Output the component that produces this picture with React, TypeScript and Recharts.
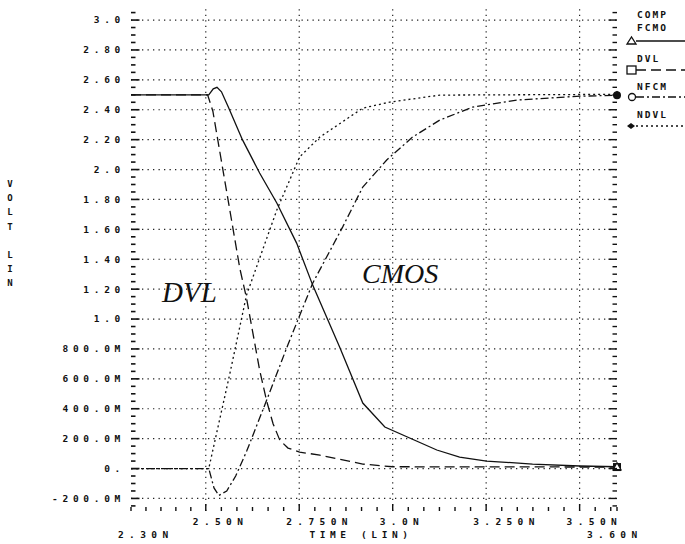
import React from 'react';
import { LineChart, Line, XAxis, YAxis, ReferenceLine } from 'recharts';

// transient response, time in ns, volts
const compT = [2.3, 2.508, 2.52, 2.53, 2.542, 2.56, 2.598, 2.644, 2.69, 2.743, 2.786, 2.858, 2.92, 2.979, 3.118, 3.179, 3.251, 3.374, 3.5, 3.6];
const compV = [2.5, 2.5, 2.54, 2.55, 2.52, 2.42, 2.2, 1.977, 1.776, 1.508, 1.227, 0.813, 0.438, 0.278, 0.124, 0.077, 0.05, 0.03, 0.017, 0.012];

const dvlT = [2.3, 2.505, 2.519, 2.556, 2.591, 2.609, 2.644, 2.663, 2.68, 2.698, 2.72, 2.751, 2.805, 2.92, 3.0, 3.6];
const dvlV = [2.5, 2.5, 2.39, 1.85, 1.34, 1.14, 0.66, 0.45, 0.3, 0.19, 0.137, 0.11, 0.09, 0.03, 0.012, 0.01];

const nfcmT = [2.3, 2.508, 2.522, 2.535, 2.556, 2.58, 2.61, 2.663, 2.72, 2.786, 2.866, 2.92, 2.984, 3.053, 3.126, 3.214, 3.332, 3.492, 3.6];
const nfcmV = [0, 0, -0.13, -0.18, -0.15, -0.05, 0.12, 0.458, 0.83, 1.24, 1.615, 1.883, 2.064, 2.217, 2.331, 2.418, 2.465, 2.49, 2.497];

const ndvlT = [2.3, 2.508, 2.564, 2.609, 2.69, 2.751, 2.805, 2.92, 2.992, 3.126, 3.6];
const ndvlV = [0, 0, 0.63, 1.16, 1.729, 2.084, 2.217, 2.411, 2.451, 2.498, 2.503];

const yMajor = [-0.2, 0, 0.2, 0.4, 0.6, 0.8, 1.0, 1.2, 1.4, 1.6, 1.8, 2.0, 2.2, 2.4, 2.6, 2.8, 3.0];
const yLabels = ['-200.0M', '0.', '200.0M', '400.0M', '600.0M', '800.0M', '1.0', '1.20', '1.40', '1.60', '1.80', '2.0', '2.20', '2.40', '2.60', '2.80', '3.0'];
const xMajor = [2.5, 2.75, 3.0, 3.25, 3.5];
const xLabels = ['2.50N', '2.750N', '3.0N', '3.250N', '3.50N'];
const xEnds = [2.3, 3.6];
const xEndLabels = ['2.30N', '3.60N'];

const zip = (t: number[], v: number[]) => t.map((x, i) => ({ t: x, v: v[i] }));
const compData = zip(compT, compV);
const dvlData = zip(dvlT, dvlV);
const nfcmData = zip(nfcmT, nfcmV);
const ndvlData = zip(ndvlT, ndvlV);

const yTicks: number[] = [];
for (let i = -5; i <= 61; i++) yTicks.push(Math.round(i * 5) / 100);

const xTicks: number[] = [2.3, 2.34, 2.38, 2.42, 2.46];
for (let j = 0; 2.5 + j * 0.25 / 6 < 3.6; j++) xTicks.push(Math.round((2.5 + j * 0.25 / 6) * 10000) / 10000);
xTicks.push(3.6);

const FONT = '"DejaVu Sans Mono", monospace';
const WEIGHT = 600;
const INK = '#111';
const near = (a: number, b: number) => Math.abs(a - b) < 1e-6;

const LeftTick = (props: any) => {
  const { x, y, payload } = props;
  const idx = yMajor.findIndex(m => near(m, payload.value));
  return (
    <g>
      <line x1={x} x2={x + (idx >= 0 ? 8.5 : 4.5)} y1={y} y2={y} stroke={INK} strokeWidth={1.6} />
      {idx >= 0 && (
        <text x={x - 6} y={y} dy="0.36em" textAnchor="end" fontFamily={FONT} fontWeight={WEIGHT} fontSize={9.5} letterSpacing={4.7} fill={INK}>
          {yLabels[idx]}
        </text>
      )}
    </g>
  );
};

const RightTick = (props: any) => {
  const { x, y, payload } = props;
  const major = yMajor.some(m => near(m, payload.value));
  return <line x1={x - (major ? 8.5 : 4.5)} x2={x} y1={y} y2={y} stroke={INK} strokeWidth={1.4} />;
};

const BottomTick = (props: any) => {
  const { x, y, payload } = props;
  const idx = xMajor.findIndex(m => near(m, payload.value));
  const end = xEnds.findIndex(m => near(m, payload.value));
  return (
    <g>
      <line x1={x} x2={x} y1={y} y2={y - (idx >= 0 ? 7 : 4)} stroke={INK} strokeWidth={1.4} />
      {idx >= 0 && (
        <text x={x - 13} y={y + 11} dy="0.36em" fontFamily={FONT} fontWeight={WEIGHT} fontSize={9.5} letterSpacing={5.4} fill={INK}>
          {xLabels[idx]}
        </text>
      )}
      {end >= 0 && (
        <text x={end === 0 ? x - 13 : x - 30} y={y + 24} dy="0.36em" fontFamily={FONT} fontWeight={WEIGHT} fontSize={9.5} letterSpacing={5.4} fill={INK}>
          {xEndLabels[end]}
        </text>
      )}
    </g>
  );
};

const endDot = (len: number, kind: string) => (p: any) => {
  if (p.index !== len - 1) return <g key={p.index} />;
  const { cx, cy } = p;
  if (kind === 'tri')
    return <path key="e" d={`M${cx - 4},${cy + 3} L${cx},${cy - 4} L${cx + 4},${cy + 3} Z`} fill="#fff" stroke={INK} strokeWidth={1.3} />;
  if (kind === 'sq') return <rect key="e" x={cx - 4} y={cy - 4} width={8} height={8} fill={INK} />;
  if (kind === 'circ') return <circle key="e" cx={cx} cy={cy} r={4} fill={INK} />;
  return <path key="e" d={`M${cx - 3.5},${cy} L${cx},${cy - 3.5} L${cx + 3.5},${cy} L${cx},${cy + 3.5} Z`} fill={INK} />;
};

const grid = { stroke: '#222', strokeWidth: 1.2, strokeDasharray: '1.3 4.2' };

const legendItems = [
  { names: ['COMP', 'FCMO'], ty: [18, 31], ly: 41, dash: undefined as string | undefined, mark: 'tri' },
  { names: ['DVL'], ty: [62], ly: 70, dash: '10 5', mark: 'sq' },
  { names: ['NFCM'], ty: [90], ly: 97, dash: '8 3 2 3', mark: 'circ' },
  { names: ['NDVL'], ty: [118], ly: 126, dash: '2 3', mark: 'dia' },
];

const axisLetters = ['V', 'O', 'L', 'T', '', 'L', 'I', 'N'];

export default function App() {
  return (
    <div style={{ position: 'absolute', left: 0, top: 0, width: 685, height: 544, background: '#fff' }}>
      <LineChart width={685} height={544} margin={{ top: 6, right: 0, bottom: 0, left: 0 }}>
        <XAxis
          type="number"
          dataKey="t"
          domain={[2.3, 3.6]}
          ticks={xTicks}
          interval={0}
          height={33}
          axisLine={false}
          tickLine={false}
          tickSize={0}
          tickMargin={0}
          tick={<BottomTick />}
        />
        <YAxis
          type="number"
          domain={[-0.284, 3.094]}
          ticks={yTicks}
          interval={0}
          width={131}
          axisLine={false}
          tickLine={false}
          tickSize={0}
          tickMargin={0}
          tick={<LeftTick />}
        />
        <YAxis
          yAxisId="r"
          orientation="right"
          type="number"
          domain={[-0.284, 3.094]}
          allowDataOverflow
          ticks={yTicks}
          interval={0}
          width={68}
          axisLine={false}
          tickLine={false}
          tickSize={0}
          tickMargin={0}
          tick={<RightTick />}
        />
        {yMajor.map(v => <ReferenceLine key={'h' + v} y={v} {...grid} />)}
        {xMajor.map(v => <ReferenceLine key={'v' + v} x={v} {...grid} />)}
        <Line data={ndvlData} dataKey="v" type="linear" stroke={INK} strokeWidth={1.3} strokeDasharray="2 3" dot={endDot(ndvlData.length, 'dia')} isAnimationActive={false} />
        <Line data={nfcmData} dataKey="v" type="linear" stroke={INK} strokeWidth={1.3} strokeDasharray="8 3 2 3" dot={endDot(nfcmData.length, 'circ')} isAnimationActive={false} />
        <Line data={dvlData} dataKey="v" type="linear" stroke={INK} strokeWidth={1.3} strokeDasharray="10 5" dot={endDot(dvlData.length, 'sq')} isAnimationActive={false} />
        <Line data={compData} dataKey="v" type="linear" stroke={INK} strokeWidth={1.3} dot={endDot(compData.length, 'tri')} isAnimationActive={false} />
      </LineChart>
      <svg width={685} height={544} style={{ position: 'absolute', left: 0, top: 0, pointerEvents: 'none' }}>
        {axisLetters.map((c, i) => (
          <text key={i} x={10} y={184 + i * 14.1} dy="0.36em" textAnchor="middle" fontFamily={FONT} fontWeight={WEIGHT} fontSize={9} fill={INK}>{c}</text>
        ))}
        <text x={361} y={535} dy="0.36em" textAnchor="middle" fontFamily={FONT} fontWeight={WEIGHT} fontSize={9.5} letterSpacing={4.6} fill={INK}>TIME (LIN)</text>
        <text x={162} y={302} fontFamily='"Liberation Serif", serif' fontStyle="italic" fontSize={29} fill={INK}>DVL</text>
        <text x={362} y={283} fontFamily='"Liberation Serif", serif' fontStyle="italic" fontSize={28} fill={INK}>CMOS</text>
        {legendItems.map((it, i) => (
          <g key={i}>
            {it.names.map((n, k) => (
              <text key={n} x={637} y={it.ty[k]} fontFamily={FONT} fontWeight={WEIGHT} fontSize={9.5} letterSpacing={2} fill={INK}>{n}</text>
            ))}
            <line x1={636} x2={685} y1={it.ly} y2={it.ly} stroke={INK} strokeWidth={1.3} strokeDasharray={it.dash} />
            {it.mark === 'tri' && <path d={`M627,${it.ly + 3} L631.5,${it.ly - 4} L636,${it.ly + 3} Z`} fill="#fff" stroke={INK} strokeWidth={1.3} />}
            {it.mark === 'sq' && <rect x={627} y={it.ly - 4} width={9} height={8} fill="#fff" stroke={INK} strokeWidth={1.3} />}
            {it.mark === 'circ' && <circle cx={632} cy={it.ly} r={3.5} fill="#fff" stroke={INK} strokeWidth={1.3} />}
            {it.mark === 'dia' && <path d={`M627,${it.ly} L631,${it.ly - 3} L635,${it.ly} L631,${it.ly + 3} Z`} fill={INK} />}
          </g>
        ))}
      </svg>
    </div>
  );
}
